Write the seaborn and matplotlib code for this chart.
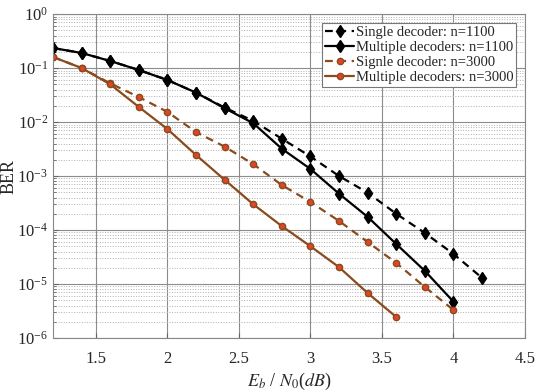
import numpy as np
import pandas as pd
import matplotlib
matplotlib.use('Agg')
import matplotlib.pyplot as plt
import seaborn as sns

# Eb/N0 values (dB)
ebn0_1100_single = [1.2, 1.4, 1.6, 1.8, 2.0, 2.2, 2.4, 2.6, 2.8, 3.0, 3.2, 3.4, 3.6, 3.8, 4.0, 4.2]
ebn0_1100_multi = [1.2, 1.4, 1.6, 1.8, 2.0, 2.2, 2.4, 2.6, 2.8, 3.0, 3.2, 3.4, 3.6, 3.8, 4.0]
ebn0_3000_single = [1.2, 1.4, 1.6, 1.8, 2.0, 2.2, 2.4, 2.6, 2.8, 3.0, 3.2, 3.4, 3.6, 3.8, 4.0]
ebn0_3000_multi = [1.2, 1.4, 1.6, 1.8, 2.0, 2.2, 2.4, 2.6, 2.8, 3.0, 3.2, 3.4, 3.6]

# BER values
ber_1100_single = [0.235, 0.19, 0.135, 0.092, 0.06, 0.035, 0.0185, 0.0105, 4.9e-3, 2.3e-3,
                   1.0e-3, 4.9e-4, 2.0e-4, 8.8e-5, 3.6e-5, 1.3e-5]
ber_1100_multi = [0.235, 0.19, 0.135, 0.092, 0.06, 0.035, 0.018, 9.5e-3, 3.2e-3, 1.35e-3,
                  4.7e-4, 1.75e-4, 5.5e-5, 1.75e-5, 4.7e-6]
ber_3000_single = [0.16, 0.10, 0.052, 0.029, 0.0154, 6.5e-3, 3.5e-3, 1.66e-3, 6.8e-4, 3.3e-4,
                   1.47e-4, 6.0e-5, 2.45e-5, 8.8e-6, 3.3e-6]
ber_3000_multi = [0.16, 0.10, 0.05, 0.019, 7.4e-3, 2.45e-3, 8.5e-4, 3.0e-4, 1.18e-4, 5.0e-5,
                  2.05e-5, 6.8e-6, 2.45e-6]

labels = ['Single decoder: n=1100', 'Multiple decoders: n=1100',
          'Signle decoder: n=3000', 'Multiple decoders: n=3000']

x_ticks = [1.5, 2, 2.5, 3, 3.5, 4, 4.5]
y_ticks = [1e-6, 1e-5, 1e-4, 1e-3, 1e-2, 1e-1, 1e0]

# Build one long table
df = pd.concat([
    pd.DataFrame({'ebn0': ebn0_1100_single, 'ber': ber_1100_single, 'curve': labels[0]}),
    pd.DataFrame({'ebn0': ebn0_1100_multi, 'ber': ber_1100_multi, 'curve': labels[1]}),
    pd.DataFrame({'ebn0': ebn0_3000_single, 'ber': ber_3000_single, 'curve': labels[2]}),
    pd.DataFrame({'ebn0': ebn0_3000_multi, 'ber': ber_3000_multi, 'curve': labels[3]}),
])

sns.set_style('ticks')
plt.rcParams['font.family'] = ['Liberation Serif', 'DejaVu Serif']
plt.rcParams['mathtext.fontset'] = 'stix'

brown = '#8a4a1c'
styles = {
    labels[0]: dict(color='black', ls=(0, (3.5, 2.5)), marker='d', mfc='black', mec='black', ms=6),
    labels[1]: dict(color='black', ls='-', marker='d', mfc='black', mec='black', ms=6),
    labels[2]: dict(color=brown, ls=(0, (3.5, 2.5)), marker='o', mfc='#e0452a', mec=brown, ms=4.5),
    labels[3]: dict(color=brown, ls='-', marker='o', mfc='#e0452a', mec=brown, ms=4.5),
}

fig = plt.figure(figsize=(5.5, 3.9), dpi=100)
ax = fig.add_axes([0.0964, 0.1333, 0.8581, 0.8307])

for lab in labels:
    st = styles[lab]
    sns.lineplot(data=df[df['curve'] == lab], x='ebn0', y='ber', ax=ax,
                 color=st['color'], linestyle=st['ls'], marker=st['marker'],
                 markerfacecolor=st['mfc'], markeredgecolor=st['mec'],
                 markersize=st['ms'], markeredgewidth=1.0, linewidth=1.6,
                 label=lab, errorbar=None, sort=False)

ax.set_yscale('log')
ax.set_ylim(1e-6, 1)
ax.set_xlim(1.2, 4.5)
ax.set_xticks(x_ticks)
ax.set_xticklabels([f'{t:g}' for t in x_ticks])
ax.set_yticks(y_ticks)
ax.yaxis.set_minor_locator(matplotlib.ticker.LogLocator(base=10, subs=np.arange(2, 10), numticks=20))
ax.yaxis.set_minor_formatter(matplotlib.ticker.NullFormatter())

ax.grid(which='major', color='#8c8c8c', linestyle='-', linewidth=0.8)
ax.grid(which='minor', axis='y', color='#b0b0b0', linestyle=':', linewidth=0.7)
ax.tick_params(which='both', direction='in', labelsize=12, color='#666666')
ax.tick_params(axis='x', pad=9)
for sp in ax.spines.values():
    sp.set_color('#888888')
    sp.set_linewidth(0.8)

ax.set_xlabel(r'$E_b$ / $N_0$($dB$)', fontsize=13)
ax.set_ylabel('BER', fontsize=13)
ax.xaxis.set_label_coords(0.5, -0.1)
ax.yaxis.set_label_coords(-0.075, 0.5)

leg = ax.legend(loc='upper right', fontsize=10.5, handlelength=2.0, handletextpad=0.1,
                borderpad=0.2, labelspacing=0.12, borderaxespad=0.6,
                fancybox=False, framealpha=1, edgecolor='#777777')
leg.get_frame().set_linewidth(0.8)

fig.savefig('out.png', dpi=100)
